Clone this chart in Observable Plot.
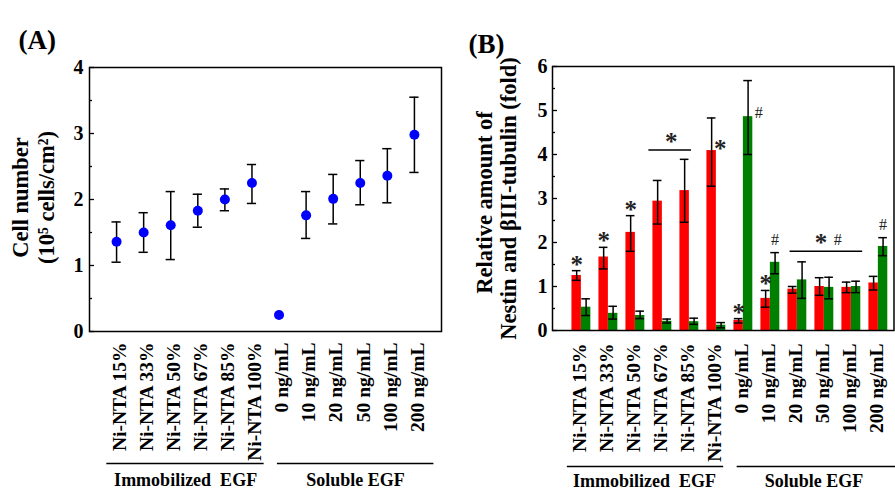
<!DOCTYPE html>
<html><head><meta charset="utf-8">
<script src="https://cdn.jsdelivr.net/npm/d3@7"></script>
<script src="https://cdn.jsdelivr.net/npm/@observablehq/plot@0.6"></script>
<style>
body{margin:0;background:#fff;}
#wrap{position:relative;width:895px;height:490px;background:#fff;overflow:hidden;}
</style>
</head><body><div id="wrap"></div>
<script>
// ---------- data: panel A ----------
const categories = ["Ni-NTA 15%","Ni-NTA 33%","Ni-NTA 50%","Ni-NTA 67%","Ni-NTA 85%","Ni-NTA 100%",
  "0 ng/mL","10 ng/mL","20 ng/mL","50 ng/mL","100 ng/mL","200 ng/mL"];
const cellMean = [1.36,1.50,1.61,1.83,2.00,2.25,0.25,1.76,2.01,2.25,2.36,2.98];
const cellHi   = [1.66,1.80,2.12,2.08,2.16,2.53,null,2.12,2.38,2.59,2.77,3.55];
const cellLo   = [1.05,1.20,1.09,1.58,1.83,1.94,null,1.41,1.63,1.92,1.95,2.41];
const yTicksA = [0,1,2,3,4];

// ---------- data: panel B ----------
const nestin   = [1.25,1.67,2.23,2.94,3.18,4.09,0.23,0.73,0.94,1.00,0.98,1.08];
const nestinHi = [1.36,1.89,2.61,3.41,3.89,4.83,0.27,0.91,1.00,1.20,1.10,1.23];
const nestinLo = [1.14,1.40,1.80,2.42,2.46,3.28,0.17,0.53,0.85,0.80,0.86,0.92];
const tubulin   = [0.53,0.39,0.34,0.21,0.20,0.12,4.86,1.55,1.15,0.98,1.00,1.91];
const tubulinHi = [0.72,0.55,0.44,0.26,0.28,0.18,5.68,1.77,1.56,1.21,1.12,2.11];
const tubulinLo = [0.34,0.26,0.27,0.17,0.14,0.06,4.00,1.29,0.73,0.72,0.86,1.70];
const yTicksB = [0,1,2,3,4,5,6];

// significance marks tied to bars: group index, series (n = nestin, t = tubulin), symbol, placement
const sigMarks = [
  {g:0,s:"n",sym:"*",pos:"above"},{g:1,s:"n",sym:"*",pos:"above"},{g:2,s:"n",sym:"*",pos:"above"},
  {g:5,s:"n",sym:"*",pos:"right"},{g:6,s:"n",sym:"*",pos:"above"},{g:6,s:"t",sym:"#",pos:"right"},
  {g:7,s:"n",sym:"*",pos:"above"},{g:7,s:"t",sym:"#",pos:"above"},{g:11,s:"t",sym:"#",pos:"above"}
];
// brackets (x in group-index units, y in data units) and their labels
const brackets = [{x1:2.5,x2:4.08,y:4.1},{x1:7.73,x2:10.42,y:1.80}];
const bracketLabels = [{b:0,sym:"*",x:3.33},{b:1,sym:"*",x:8.88},{b:1,sym:"#",x:9.5}];

// group captions
const groupNames = ["Immobilized  EGF","Soluble EGF"];

// ---------- layout ----------
const SERIF = "'Liberation Serif','Times New Roman',serif";
const baseStyle = {fontFamily: SERIF, fontSize: "18px", fontWeight: "bold", color: "black", background: "white", overflow: "visible"};
const wrap = document.getElementById("wrap");
function place(el, left){ el.style.position = "absolute"; el.style.left = left + "px"; el.style.top = "0px"; wrap.appendChild(el); }
const idx = categories.map((_, i) => i);
const half = d3.range(0, 6.01, 0.5);
const intFmt = d3.format("d");

// ---------- panel A ----------
const rowsA = idx.map(i => ({i, m: cellMean[i], hi: cellHi[i], lo: cellLo[i]}));
const errA = rowsA.filter(d => d.hi != null);
const capA = 0.17;
const spanA = [[-0.36,5.45],[5.94,11.72]];
const capCentersA = [2.55, 8.82];
const grpA = groupNames.map((n, k) => ({n, x1: spanA[k][0], x2: spanA[k][1], xc: capCentersA[k]}));

const plotA = Plot.plot({
  width: 450, height: 490,
  marginLeft: 89, marginRight: 9, marginTop: 67, marginBottom: 159,
  x: {domain: [-1, 12]},
  y: {domain: [0, 4]},
  style: baseStyle,
  marks: [
    Plot.axisY({ticks: half.filter(v => v <= 4 && v % 1), tickSize: -3, tickFormat: () => "", label: null, strokeWidth: 1.3}),
    Plot.axisY({ticks: yTicksA, tickSize: -5, tickFormat: () => "", label: null, strokeWidth: 1.3}),
    Plot.axisY({ticks: yTicksA, tickSize: 0, tickPadding: 6, tickFormat: intFmt, label: null, fontSize: 20}),
    Plot.axisX({ticks: idx, tickFormat: i => categories[i], tickRotate: -90, tickSize: 0, tickPadding: 11, dx: 3, label: null, fontSize: 19.5}),
    Plot.ruleX(errA, {x: "i", y1: "lo", y2: "hi", strokeWidth: 1.5}),
    Plot.ruleY(errA, {y: "hi", x1: d => d.i - capA, x2: d => d.i + capA, strokeWidth: 1.5}),
    Plot.ruleY(errA, {y: "lo", x1: d => d.i - capA, x2: d => d.i + capA, strokeWidth: 1.5}),
    Plot.dot(rowsA, {x: "i", y: "m", r: 5, fill: "#0000ff", stroke: null}),
    Plot.frame({stroke: "black", strokeWidth: 1.5}),
    Plot.text(["Cell number"], {text: d => d, frameAnchor: "left", textAnchor: "middle", rotate: -90, dx: -69, dy: -2, fontSize: 22.5}),
    Plot.text(["(10\u2075 cells/cm\u00b2)"], {text: d => d, frameAnchor: "left", textAnchor: "middle", rotate: -90, dx: -43, dy: -2, fontSize: 22.5}),
    Plot.text(["(A)"], {text: d => d, frameAnchor: "top-left", textAnchor: "start", dx: -71, dy: -38, fontSize: 27}),
    Plot.ruleY(grpA, {y: 0, x1: "x1", x2: "x2", dy: 132, strokeWidth: 1.3}),
    Plot.text(grpA, {x: "xc", y: 0, text: "n", dy: 149, fontSize: 18})
  ]
});
place(plotA, 0);

// ---------- panel B ----------
const bw = 0.35, capB = 0.16;
const rowsB = idx.map(i => ({i, n: nestin[i], nHi: nestinHi[i], nLo: nestinLo[i], t: tubulin[i], tHi: tubulinHi[i], tLo: tubulinLo[i]}));
const spanB = [[-0.52,5.27],[5.77,11.7]];
const capCentersB = [2.34, 8.62];
const grpB = groupNames.map((n, k) => ({n, x1: spanB[k][0], x2: spanB[k][1], xc: capCentersB[k]}));
const barX = (d, s) => s === "n" ? d.i - bw/2 : d.i + bw/2;
const sigRows = sigMarks.map(m => {
  const d = rowsB[m.g];
  const top = m.s === "n" ? d.nHi : d.tHi;
  const val = m.s === "n" ? d.n : d.t;
  if (m.pos === "above") return {...m, x: barX(d, m.s), y: top};
  return {...m, x: m.s === "n" ? d.i : d.i + bw, y: val};
});
const starRows = sigRows.filter(d => d.sym === "*");
const hashRows = sigRows.filter(d => d.sym === "#");
const bLab = bracketLabels.map(l => ({...l, y: brackets[l.b].y}));
const starStyle = {fontWeight: "bold", fill: "#222", fontSize: 25};
const hashStyle = {fontWeight: "normal", fill: "#222", fontSize: 16};

const plotB = Plot.plot({
  width: 445, height: 490,
  marginLeft: 102, marginRight: 1.5, marginTop: 66, marginBottom: 160,
  x: {domain: [-1.07, 11.58]},
  y: {domain: [0, 6]},
  style: baseStyle,
  marks: [
    Plot.rect(rowsB, {x1: d => d.i - bw, x2: d => d.i, y1: 0, y2: "n", fill: "#ff0000"}),
    Plot.rect(rowsB, {x1: d => d.i, x2: d => d.i + bw, y1: 0, y2: "t", fill: "#008000"}),
    Plot.ruleX(rowsB, {x: d => d.i - bw/2, y1: "nLo", y2: "nHi", strokeWidth: 1.5}),
    Plot.ruleY(rowsB, {y: "nHi", x1: d => d.i - bw/2 - capB, x2: d => d.i - bw/2 + capB, strokeWidth: 1.5}),
    Plot.ruleY(rowsB, {y: "nLo", x1: d => d.i - bw/2 - capB, x2: d => d.i - bw/2 + capB, strokeWidth: 1.5}),
    Plot.ruleX(rowsB, {x: d => d.i + bw/2, y1: "tLo", y2: "tHi", strokeWidth: 1.5}),
    Plot.ruleY(rowsB, {y: "tHi", x1: d => d.i + bw/2 - capB, x2: d => d.i + bw/2 + capB, strokeWidth: 1.5}),
    Plot.ruleY(rowsB, {y: "tLo", x1: d => d.i + bw/2 - capB, x2: d => d.i + bw/2 + capB, strokeWidth: 1.5}),
    Plot.axisY({ticks: half.filter(v => v % 1), tickSize: -3, tickFormat: () => "", label: null, strokeWidth: 1.3}),
    Plot.axisY({ticks: yTicksB, tickSize: -5, tickFormat: () => "", label: null, strokeWidth: 1.3}),
    Plot.axisY({ticks: yTicksB, tickSize: 0, tickPadding: 5, tickFormat: intFmt, label: null, fontSize: 20}),
    Plot.axisX({ticks: idx, tickFormat: i => categories[i], tickRotate: -90, tickSize: 0, tickPadding: 13, dx: -2, label: null, fontSize: 19.5}),
    Plot.frame({stroke: "black", strokeWidth: 1.5}),
    // significance
    Plot.text(starRows.filter(d => d.pos === "above"), {x: "x", y: "y", text: "sym", dy: -6, ...starStyle}),
    Plot.text(starRows.filter(d => d.pos === "right"), {x: "x", y: "y", text: "sym", dx: 4, dy: -2, ...starStyle}),
    Plot.text(hashRows.filter(d => d.pos === "above"), {x: "x", y: "y", text: "sym", dy: -13, ...hashStyle}),
    Plot.text(hashRows.filter(d => d.pos === "right"), {x: "x", y: "y", text: "sym", dx: 6, dy: -4, ...hashStyle}),
    Plot.ruleY(brackets, {y: "y", x1: "x1", x2: "x2", strokeWidth: 1.5}),
    Plot.text(bLab.filter(d => d.sym === "*"), {x: "x", y: "y", text: "sym", dy: -8, ...starStyle}),
    Plot.text(bLab.filter(d => d.sym === "#"), {x: "x", y: "y", text: "sym", dy: -11, ...hashStyle}),
    // labels
    Plot.text(["Relative amount of"], {text: d => d, frameAnchor: "left", textAnchor: "middle", rotate: -90, dx: -68, dy: 4, fontSize: 22.5}),
    Plot.text(["Nestin and \u03b2III-tubulin (fold)"], {text: d => d, frameAnchor: "left", textAnchor: "middle", rotate: -90, dx: -44, fontSize: 22.5}),
    Plot.text(["(B)"], {text: d => d, frameAnchor: "top-left", textAnchor: "start", dx: -84, dy: -33, fontSize: 27}),
    Plot.ruleY(grpB, {y: 0, x1: "x1", x2: "x2", dy: 136, strokeWidth: 1.3}),
    Plot.text(grpB, {x: "xc", y: 0, text: "n", dy: 151, fontSize: 18})
  ]
});
place(plotB, 450);
</script>
</body></html>
